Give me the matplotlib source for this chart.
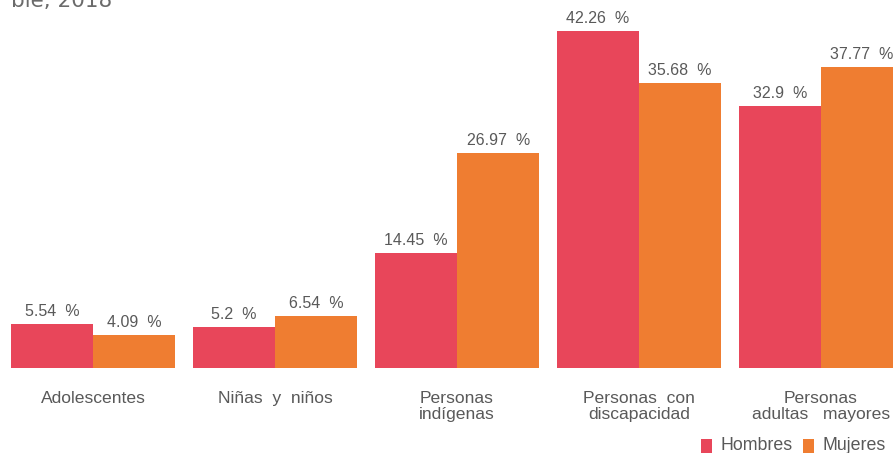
import matplotlib
matplotlib.use("Agg")
import matplotlib.pyplot as plt
import numpy as np

categories = ["Adolescentes", "Niñas  y  niños", "Personas\nindígenas",
              "Personas  con\ndiscapacidad", "Personas\nadultas   mayores"]
hombres = [5.54, 5.2, 14.45, 42.26, 32.9]
mujeres = [4.09, 6.54, 26.97, 35.68, 37.77]
hombres_labels = ["5.54", "5.2", "14.45", "42.26", "32.9"]
mujeres_labels = ["4.09", "6.54", "26.97", "35.68", "37.77"]
series_names = ["Hombres", "Mujeres"]

RED = "#E8465A"
ORANGE = "#EF7D31"
TXT = "#595959"
W, H = 893, 453

plt.rcParams['font.family'] = ['Liberation Sans', 'DejaVu Sans']
fig = plt.figure(figsize=(W / 100, H / 100), dpi=100)
base_px = 368
ax = fig.add_axes([0, (H - base_px) / H, 1, base_px / H])
ax.axis('off')

px_per_unit_x = 182.0
x0 = 93.0
ax.set_xlim(-x0 / px_per_unit_x, (W - x0) / px_per_unit_x)
ppu_y = 337 / 42.26
ax.set_ylim(0, base_px / ppu_y)

x = np.arange(len(categories))
bw = 0.452
b1 = ax.bar(x - bw / 2, hombres, bw, color=RED, linewidth=0)
b2 = ax.bar(x + bw / 2, mujeres, bw, color=ORANGE, linewidth=0)

for bars, labs in ((b1, hombres_labels), (b2, mujeres_labels)):
    for bar, lab in zip(bars, labs):
        ax.annotate(f"{lab}  %", (bar.get_x() + bar.get_width() / 2, bar.get_height()),
                    xytext=(0, 3.6), textcoords='offset points', ha='center', va='bottom',
                    fontsize=11.5, color=TXT, annotation_clip=False)

for xi, cat in zip(x, categories):
    ax.annotate(cat, (xi, 0), xytext=(0, -16.5), textcoords='offset points',
                ha='center', va='top', fontsize=12.6, color=TXT,
                linespacing=1.12, annotation_clip=False)

# legend
for sx, name, col in ((701, series_names[0], RED), (803, series_names[1], ORANGE)):
    fig.patches.append(plt.Rectangle((sx / W, 1 - 455 / H), 11 / W, 16 / H,
                                     transform=fig.transFigure, color=col, linewidth=0))
    fig.text((sx + 20) / W, 1 - 446 / H, name, fontsize=12.8, color=TXT,
             ha='left', va='center')

# title (cut off at top of image)
fig.text(112 / W, 1 - 7 / H, "ble, 2018", fontsize=15.5, color="#6b6b6b",
         ha='right', va='baseline', family=['DejaVu Sans'])

fig.savefig("out.png", dpi=100)
